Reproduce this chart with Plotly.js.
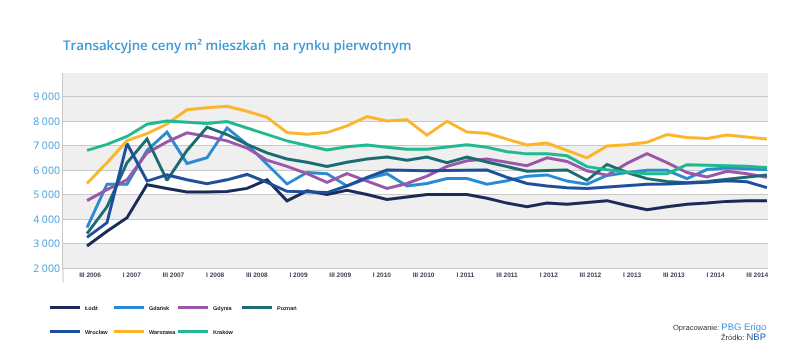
<!DOCTYPE html>
<html>
<head>
<meta charset="utf-8">
<script src="https://cdn.plot.ly/plotly-3.0.1.min.js"></script>
<style>
  html, body { margin: 0; padding: 0; background: #ffffff; }
  #chart { width: 800px; height: 355px; }
  #chart svg.main-svg { will-change: transform; }
  #chart text { -webkit-font-smoothing: antialiased; text-rendering: geometricPrecision; }
</style>
</head>
<body>
<div id="chart"></div>
<script>
// ---- data (PLN per m², primary market transaction prices) ----
const cities = ['Łódź', 'Gdańsk', 'Gdynia', 'Poznań', 'Wrocław', 'Warszawa', 'Kraków'];
const tickLabels = ['III 2006', 'I 2007', 'III 2007', 'I 2008', 'III 2008', 'I 2009', 'III 2009', 'I 2010',
  'III 2010', 'I 2011', 'III 2011', 'I 2012', 'III 2012', 'I 2013', 'III 2013', 'I 2014', 'III 2014'];

const lodz = [2900, 3500, 4050, 5400, 5250, 5100, 5100, 5120, 5250, 5600, 4740, 5150, 5000, 5170, 5000, 4800, 4900,
  5000, 5000, 5000, 4850, 4650, 4500, 4650, 4600, 4680, 4750, 4550, 4380, 4500, 4600, 4650, 4720, 4750, 4750];
const gdansk = [3650, 5420, 5420, 6800, 7550, 6270, 6500, 7720, 7050, 6250, 5430, 5900, 5850, 5350, 5650, 5850, 5350,
  5450, 5650, 5650, 5420, 5560, 5750, 5800, 5550, 5420, 5780, 5900, 5990, 5990, 5650, 6020, 6080, 6050, 6020];
const gdynia = [4750, 5200, 5600, 6700, 7150, 7520, 7370, 7190, 6900, 6400, 6150, 5850, 5500, 5850, 5550, 5250, 5450,
  5750, 6150, 6380, 6450, 6300, 6180, 6500, 6350, 5970, 5790, 6270, 6670, 6300, 5900, 5720, 5950, 5850, 5700];
const poznan = [3400, 4500, 6300, 7270, 5580, 6800, 7750, 7450, 7050, 6700, 6450, 6320, 6150, 6320, 6450, 6530, 6400,
  6530, 6300, 6530, 6330, 6150, 5950, 5980, 6000, 5580, 6230, 5900, 5650, 5530, 5480, 5530, 5620, 5700, 5800];
const wroclaw = [3250, 3850, 7080, 5550, 5800, 5600, 5440, 5600, 5820, 5500, 5130, 5100, 5080, 5350, 5700, 6000, 5980,
  5970, 5980, 6000, 6000, 5700, 5450, 5350, 5280, 5250, 5300, 5370, 5420, 5430, 5450, 5500, 5560, 5520, 5280];
const warszawa = [5450, 6300, 7200, 7490, 7880, 8460, 8540, 8600, 8400, 8150, 7530, 7460, 7530, 7800, 8180, 8000, 8050,
  7420, 7990, 7550, 7500, 7250, 7020, 7100, 6800, 6500, 6980, 7030, 7130, 7450, 7330, 7290, 7430, 7350, 7270];
const krakow = [6800, 7050, 7370, 7870, 8000, 7940, 7900, 7980, 7710, 7460, 7190, 7000, 6820, 6950, 7020, 6930, 6850,
  6850, 6930, 7030, 6930, 6750, 6660, 6660, 6580, 6140, 6010, 5910, 5850, 5850, 6220, 6200, 6170, 6150, 6100];

const seriesValues = [lodz, gdansk, gdynia, poznan, wroclaw, warszawa, krakow];

// ---- styling ----
const colors = ['#1b2a57', '#2a8bd2', '#9a56a8', '#1b6b72', '#1d4f9a', '#fbb52b', '#20b98f'];
const legendOf = ['legend', 'legend', 'legend', 'legend', 'legend2', 'legend2', 'legend2'];

const traces = seriesValues.map((vals, s) => ({
  type: 'scatter',
  mode: 'lines',
  name: cities[s],
  x: vals.map((_, i) => i),
  y: vals,
  line: { color: colors[s], width: 3 },
  legend: legendOf[s],
  hovertemplate: cities[s] + ': %{y:,.0f} zł/m²<extra></extra>'
}));

// tick labels are spread evenly over the period axis (as in the source graphic)
const tickVals = tickLabels.map((_, k) => 0.15 + k * 2.085);

const bandColor = '#efefef';
const bands = [[2000, 3000], [4000, 5000], [6000, 7000], [8000, 9962]].map(b => ({
  type: 'rect', xref: 'paper', yref: 'y', x0: 0, x1: 1, y0: b[0], y1: b[1],
  fillcolor: bandColor, line: { width: 0 }, layer: 'below'
}));

const legendCommon = {
  orientation: 'h', xref: 'container', yref: 'container',
  xanchor: 'left', yanchor: 'top', x: 45 / 800,
  entrywidth: 19, entrywidthmode: 'pixels', itemwidth: 30,
  bgcolor: 'rgba(0,0,0,0)', borderwidth: 0,
  font: { family: 'Liberation Sans, Arial, sans-serif', size: 5.5, color: '#222222', weight: 'bold' }
};

const layout = {
  width: 800, height: 355,
  margin: { l: 63, r: 32, t: 73, b: 87, pad: 0, autoexpand: false },
  paper_bgcolor: '#ffffff',
  plot_bgcolor: '#ffffff',
  separators: ', ',
  title: {
    text: 'Transakcyjne ceny m² mieszkań\u00a0 na rynku pierwotnym',
    xref: 'paper', x: 0, xanchor: 'left',
    yref: 'container', y: 0.873, yanchor: 'middle',
    font: { family: 'Open Sans, sans-serif', size: 13.3, color: '#3d9ad6', weight: 600 }
  },
  xaxis: {
    range: [-1.2, 34.05],
    tickmode: 'array', tickvals: tickVals, ticktext: tickLabels,
    showgrid: false, zeroline: false,
    showline: true, linecolor: '#c8c8c8', linewidth: 1.3,
    ticks: '',
    tickfont: { family: 'Liberation Sans, Arial, sans-serif', size: 6.5, color: '#3c4152', weight: 'bold' },
    fixedrange: true
  },
  yaxis: {
    range: [2000, 9962],
    tick0: 0, dtick: 1000,
    tickformat: ',.0f',
    showgrid: true, gridcolor: '#c8c8c8', gridwidth: 1.3,
    zeroline: false,
    showline: true, linecolor: '#c8c8c8', linewidth: 1,
    ticks: '',
    tickfont: { family: 'Open Sans, sans-serif', size: 10.5, color: '#4aa3df' },
    fixedrange: true
  },
  shapes: bands.concat([
    { type: 'line', xref: 'paper', yref: 'paper', x0: 0, x1: 0, y0: -0.075, y1: 0,
      line: { color: '#c8c8c8', width: 1 } }
  ]),
  legend: Object.assign({}, legendCommon, { y: 1 - 293 / 355 }),
  legend2: Object.assign({}, legendCommon, { y: 1 - 317 / 355 }),
  annotations: [
    { xref: 'paper', yref: 'paper', x: 1, xanchor: 'right', y: -0.3, yanchor: 'middle', showarrow: false,
      text: 'Opracowanie: <span style="color:#3a9ad9;font-size:9.5px">PBG Erigo</span>',
      font: { family: 'Liberation Sans, Arial, sans-serif', size: 7.5, color: '#333333' } },
    { xref: 'paper', yref: 'paper', x: 1, xanchor: 'right', y: -0.352, yanchor: 'middle', showarrow: false,
      text: 'Źródło: <span style="color:#1f5fa8;font-size:9.5px">NBP</span>',
      font: { family: 'Liberation Sans, Arial, sans-serif', size: 7.5, color: '#333333' } }
  ],
  hovermode: 'closest'
};

Plotly.newPlot('chart', traces, layout, { displayModeBar: false, responsive: false });
</script>
</body>
</html>
